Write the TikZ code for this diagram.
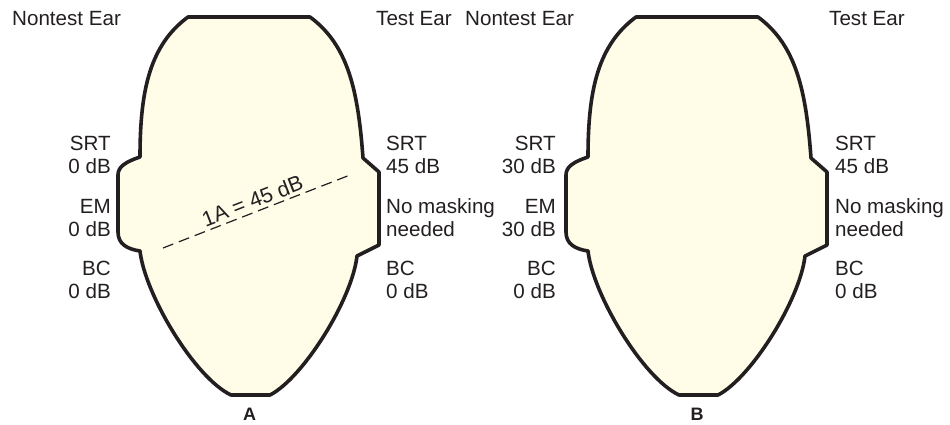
\documentclass[tikz,border=0pt]{standalone}
\usepackage{fontspec}
\setmainfont{Liberation Sans}
\begin{document}
\definecolor{headfill}{RGB}{255,252,232}
\definecolor{ink}{RGB}{35,31,32}
\begin{tikzpicture}[x=1pt,y=-1pt,
  headline/.style={fill=headfill,draw=ink,line width=3.6pt,line join=round},
  lbl/.style={font=\fontsize{20.6}{23.5}\selectfont,text=ink,inner sep=0pt},
  lblL/.style={lbl,align=right,anchor=base east},
  lblR/.style={lbl,align=left,anchor=base west},
  ttl/.style={lbl,anchor=base west},
  panel/.style={font=\fontsize{18}{20}\selectfont\bfseries,text=ink,inner sep=0pt,anchor=base},
  mask/.style={draw=ink,line width=1.2pt,dash pattern=on 11pt off 6pt},
  masklbl/.style={font=\fontsize{21.4}{24}\selectfont,text=ink,inner sep=0pt},
  pics/head/.style={code={
    \path[headline]
      (-61,17) .. controls (-99,45) and (-109,90) .. (-109,157)
      .. controls (-124,162) and (-131,167) .. (-131,175)
      -- (-131,232)
      .. controls (-131,244) and (-122,249) .. (-109,251)
      .. controls (-104,295) and (-54,378) .. (-18,395)
      -- (21,395)
      .. controls (54,378) and (103,300) .. (108,256)
      -- (130,245) -- (130,172) -- (114,158)
      .. controls (109,90) and (99,45) .. (61,17)
      -- cycle;
  }}]
\useasboundingbox (0,0) rectangle (950,424);

% the two heads
\pic (headA) at (249,0) {head};
\pic (headB) at (697,0) {head};

% ear captions
\node[ttl] (ntA) at (12,25) {Nontest Ear};
\node[ttl] (tA)  at (376,25) {Test Ear};
\node[ttl] (ntB) at (465,25) {Nontest Ear};
\node[ttl] (tB)  at (829,25) {Test Ear};

% panel A, nontest ear (anchored on the second line's baseline)
\node[lblL] (aSrtL) at (111,173.5) {SRT\\0 dB};
\node[lblL] (aEmL)  at (111,236.5) {EM\\0 dB};
\node[lblL] (aBcL)  at (111,298.5) {BC\\0 dB};
% panel A, test ear
\node[lblR] (aSrtR) at (386,173.5) {SRT\\45 dB};
\node[lblR] (aNmR)  at (386,236.5) {No masking\\needed};
\node[lblR] (aBcR)  at (386,298.5) {BC\\0 dB};

% panel B, nontest ear
\node[lblL] (bSrtL) at (556,173.5) {SRT\\30 dB};
\node[lblL] (bEmL)  at (556,236.5) {EM\\30 dB};
\node[lblL] (bBcL)  at (556,298.5) {BC\\0 dB};
% panel B, test ear
\node[lblR] (bSrtR) at (835,173.5) {SRT\\45 dB};
\node[lblR] (bNmR)  at (835,236.5) {No masking\\needed};
\node[lblR] (bBcR)  at (835,298.5) {BC\\0 dB};

% interaural attenuation across the head
\coordinate (iaL) at (163,248);
\coordinate (iaR) at (350,175);
\draw[mask] (iaL) -- node[midway,sloped,above=3pt,masklbl] (ia) {1A = 45 dB} (iaR);

% panel letters
\node[panel] (pA) at (249.5,420) {A};
\node[panel] (pB) at (697,420) {B};
\end{tikzpicture}
\end{document}
